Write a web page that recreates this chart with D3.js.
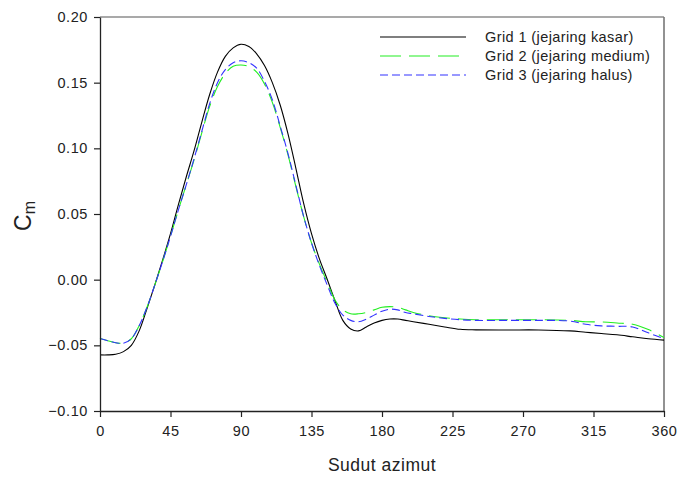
<!DOCTYPE html>
<html>
<head>
<meta charset="utf-8">
<script src="https://cdn.jsdelivr.net/npm/d3@7"></script>
<style>
  body { margin: 0; background: #fff; }
  text { font-family: "Liberation Sans", Arial, sans-serif; fill: #222; }
</style>
</head>
<body>
<div id="chart"></div>
<script>
// sudut azimut (derajat)
var angles = [0,5,10,15,20,25,30,35,40,45,50,55,60,65,70,75,80,85,90,95,100,105,110,115,120,125,130,135,140,145,150,155,160,165,170,175,180,185,190,195,200,210,220,230,240,260,280,300,310,320,330,340,350,360];

var grid1 = [-0.0573,-0.0573,-0.0568,-0.0548,-0.050,-0.039,-0.022,-0.004,0.015,0.035,0.057,0.078,0.098,0.120,0.141,0.158,0.170,0.1765,0.1792,0.1775,0.172,0.163,0.150,0.133,0.111,0.085,0.058,0.035,0.016,0.0003,-0.016,-0.031,-0.0375,-0.039,-0.036,-0.033,-0.031,-0.030,-0.030,-0.031,-0.032,-0.034,-0.036,-0.0378,-0.0382,-0.0383,-0.0383,-0.039,-0.040,-0.041,-0.042,-0.0435,-0.045,-0.046];

var grid2 = [-0.0448,-0.0465,-0.048,-0.0484,-0.045,-0.035,-0.021,-0.004,0.014,0.033,0.053,0.072,0.091,0.112,0.132,0.147,0.157,0.1625,0.1635,0.1622,0.158,0.149,0.135,0.116,0.095,0.071,0.048,0.028,0.012,-0.002,-0.0155,-0.023,-0.026,-0.026,-0.025,-0.023,-0.021,-0.0205,-0.021,-0.023,-0.025,-0.0275,-0.029,-0.030,-0.0305,-0.0305,-0.0305,-0.031,-0.032,-0.0322,-0.033,-0.034,-0.038,-0.044];

var grid3 = [-0.0448,-0.0465,-0.048,-0.0484,-0.045,-0.035,-0.021,-0.004,0.014,0.033,0.053,0.072,0.092,0.113,0.134,0.150,0.160,0.1652,0.1667,0.1652,0.161,0.151,0.137,0.117,0.096,0.072,0.048,0.028,0.011,-0.004,-0.018,-0.027,-0.031,-0.032,-0.030,-0.027,-0.024,-0.0225,-0.023,-0.025,-0.026,-0.028,-0.0295,-0.0305,-0.031,-0.031,-0.031,-0.0315,-0.034,-0.0352,-0.0355,-0.036,-0.0405,-0.045];

var seriesNames = ["Grid 1 (jejaring kasar)", "Grid 2 (jejaring medium)", "Grid 3 (jejaring halus)"];
var xTicks = [0,45,90,135,180,225,270,315,360];
var yTicks = [-0.10,-0.05,0.00,0.05,0.10,0.15,0.20];

var width = 678, height = 477;
var plotLeft = 100, plotRight = 664, plotTop = 17, plotBottom = 411;

var svg = d3.select("#chart").append("svg")
    .attr("width", width)
    .attr("height", height);

var x = d3.scaleLinear().domain([0, 360]).range([plotLeft, plotRight]);
var y = d3.scaleLinear().domain([-0.10, 0.20]).range([plotBottom, plotTop]);

// frame (top and right are grey)
svg.append("line").attr("x1", plotLeft).attr("x2", plotRight).attr("y1", plotTop).attr("y2", plotTop)
    .attr("stroke", "#555").attr("stroke-width", 1.2);
svg.append("line").attr("x1", plotRight).attr("x2", plotRight).attr("y1", plotTop).attr("y2", plotBottom)
    .attr("stroke", "#777").attr("stroke-width", 1.6);

var series = [
    {name: seriesNames[0], values: grid1, color: "#000", dash: null, width: 1.1},
    {name: seriesNames[1], values: grid2, color: "#22ee22", dash: "21,8", width: 1.1},
    {name: seriesNames[2], values: grid3, color: "#3333ff", dash: "8,4", width: 1.1}
];

var line = d3.line()
    .x(function(d, i) { return x(angles[i]); })
    .y(function(d) { return y(d); })
    .curve(d3.curveCatmullRom.alpha(0.5));

series.forEach(function(s) {
    svg.append("path")
        .datum(s.values)
        .attr("d", line)
        .attr("fill", "none")
        .attr("stroke", s.color)
        .attr("stroke-width", s.width)
        .attr("stroke-dasharray", s.dash);
});

// axes
var xAxis = svg.append("g")
    .attr("transform", "translate(0," + plotBottom + ")")
    .call(d3.axisBottom(x).tickValues(xTicks).tickSize(6).tickSizeOuter(0).tickPadding(9));
var yAxis = svg.append("g")
    .attr("transform", "translate(" + plotLeft + ",0)")
    .call(d3.axisLeft(y).tickValues(yTicks).tickSize(6).tickSizeOuter(0).tickPadding(6)
        .tickFormat(d3.format(".2f")));

[xAxis, yAxis].forEach(function(a) {
    a.select(".domain").attr("stroke", "#222").attr("stroke-width", 1.3);
    a.selectAll(".tick line").attr("stroke", "#222").attr("stroke-width", 1.2);
    a.selectAll(".tick text")
        .style("font-family", "'Liberation Sans', Arial, sans-serif")
        .style("font-size", "14.5px")
        .style("letter-spacing", "0.6px")
        .attr("fill", "#222");
});

// axis titles
svg.append("text")
    .attr("x", (plotLeft + plotRight) / 2)
    .attr("y", 471)
    .attr("text-anchor", "middle")
    .style("font-size", "17.5px")
    .style("letter-spacing", "0.5px")
    .text("Sudut azimut");

var ylab = svg.append("text")
    .attr("transform", "translate(31,216) rotate(-90)")
    .attr("text-anchor", "middle")
    .style("font-size", "23px");
ylab.append("tspan").text("C");
ylab.append("tspan").attr("dy", 4).style("font-size", "16px").text("m");

// legend
var legend = svg.append("g");
series.forEach(function(s, i) {
    var ly = 37 + i * 19;
    legend.append("line")
        .attr("x1", 380).attr("x2", 466)
        .attr("y1", ly).attr("y2", ly)
        .attr("stroke", s.color)
        .attr("stroke-width", s.width)
        .attr("stroke-dasharray", s.dash);
    legend.append("text")
        .attr("x", 485).attr("y", ly + 5)
        .style("font-size", "14.5px")
        .style("letter-spacing", "0.4px")
        .text(s.name);
});
</script>
</body>
</html>
